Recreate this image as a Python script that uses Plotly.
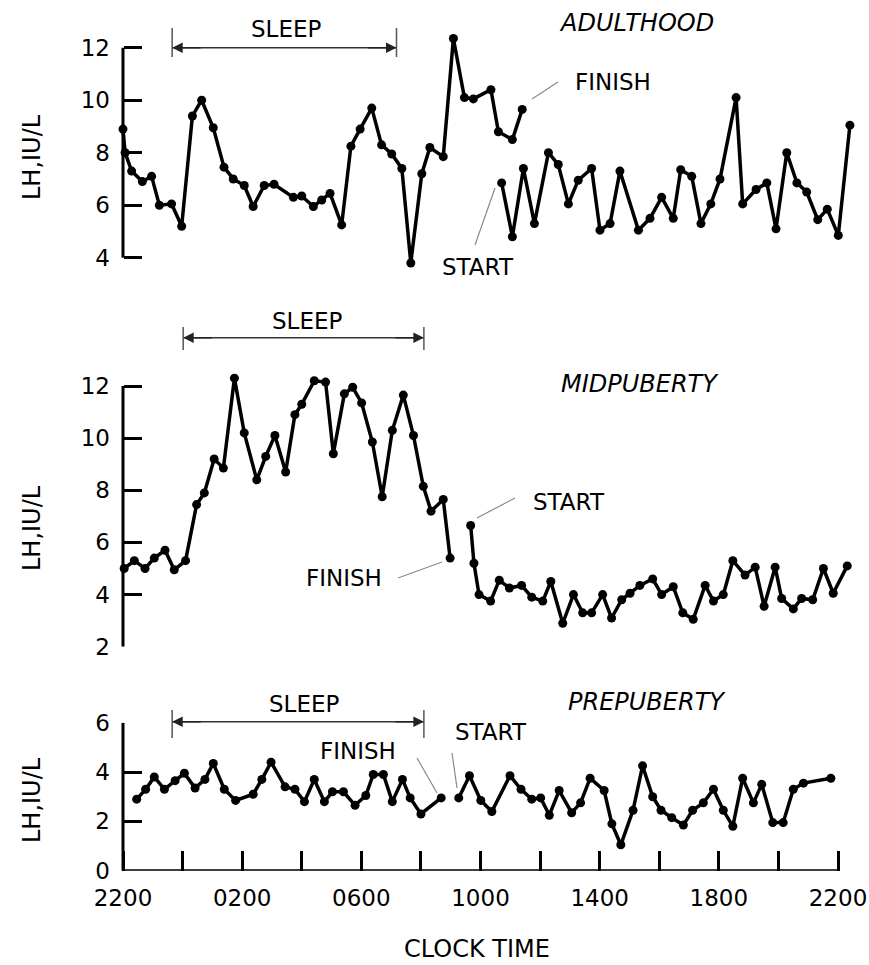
import plotly.graph_objects as go

# ---------------- data (time = hours after 2200) ----------------
adult_night_t = [0, 0.07, 0.29, 0.65, 0.96, 1.22, 1.63, 1.97, 2.33, 2.64, 3.03, 3.39, 3.70, 4.07,
                 4.37, 4.74, 5.07, 5.72, 6.00, 6.39, 6.67, 6.95, 7.34, 7.65, 7.96, 8.35, 8.68, 9.02,
                 9.36, 9.66, 10.03, 10.30, 10.75, 11.09, 11.46, 11.76, 12.35, 12.60, 13.07, 13.40]
adult_night_v = [8.9, 8.0, 7.3, 6.9, 7.1, 6.0, 6.05, 5.2, 9.4, 10.0, 8.95, 7.45, 7.0, 6.75,
                 5.95, 6.75, 6.8, 6.3, 6.35, 5.95, 6.2, 6.45, 5.25, 8.25, 8.9, 9.7, 8.3, 7.95,
                 7.4, 3.8, 7.2, 8.2, 7.85, 12.35, 10.1, 10.05, 10.4, 8.8, 8.5, 9.65]
adult_day_t = [12.71, 13.07, 13.44, 13.81, 14.28, 14.61, 14.95, 15.28, 15.73, 16.01, 16.35, 16.68,
               17.30, 17.69, 18.08, 18.47, 18.72, 19.09, 19.40, 19.73, 20.04, 20.58, 20.80, 21.25,
               21.61, 21.92, 22.28, 22.62, 22.95, 23.32, 23.64, 24.01, 24.40]
adult_day_v = [6.85, 4.8, 7.4, 5.3, 8.0, 7.55, 6.05, 6.95, 7.4, 5.05, 5.3, 7.3,
               5.05, 5.5, 6.3, 5.5, 7.35, 7.1, 5.3, 6.05, 7.0, 10.1, 6.05, 6.6,
               6.85, 5.1, 8.0, 6.85, 6.5, 5.45, 5.85, 4.85, 9.05]

mid_night_t = [0.04, 0.38, 0.74, 1.05, 1.41, 1.72, 2.10, 2.47, 2.73, 3.06, 3.37, 3.74, 4.07, 4.49,
               4.79, 5.10, 5.46, 5.77, 6.00, 6.42, 6.80, 7.06, 7.43, 7.71, 8.01, 8.37, 8.70, 9.04,
               9.41, 9.75, 10.08, 10.34, 10.75, 10.98]
mid_night_v = [5.0, 5.3, 5.0, 5.4, 5.7, 4.95, 5.3, 7.45, 7.9, 9.2, 8.85, 12.3, 10.2, 8.4,
               9.3, 10.1, 8.7, 10.9, 11.3, 12.2, 12.15, 9.4, 11.7, 11.95, 11.35, 9.85, 7.75, 10.3,
               11.65, 10.1, 8.15, 7.2, 7.65, 5.4]
mid_day_t = [11.67, 11.78, 11.95, 12.34, 12.63, 12.97, 13.38, 13.72, 14.09, 14.36, 14.76, 15.12,
             15.43, 15.73, 16.10, 16.40, 16.74, 17.02, 17.35, 17.78, 18.08, 18.47, 18.79, 19.14,
             19.54, 19.82, 20.15, 20.47, 20.88, 21.22, 21.52, 21.89, 22.11, 22.50, 22.78, 23.15,
             23.51, 23.84, 24.31]
mid_day_v = [6.65, 5.2, 4.0, 3.75, 4.55, 4.25, 4.35, 3.9, 3.75, 4.5, 2.9, 4.0,
             3.3, 3.3, 4.0, 3.1, 3.8, 4.05, 4.35, 4.6, 4.0, 4.3, 3.3, 3.05,
             4.35, 3.75, 4.0, 5.3, 4.75, 5.05, 3.55, 5.05, 3.85, 3.45, 3.85, 3.8,
             5.0, 4.05, 5.1]

pre_night_t = [0.46, 0.76, 1.05, 1.39, 1.75, 2.06, 2.42, 2.75, 3.03, 3.40, 3.78, 4.37, 4.66, 4.97,
               5.44, 5.77, 6.09, 6.42, 6.76, 7.03, 7.40, 7.79, 8.15, 8.40, 8.74, 9.04, 9.38, 9.64,
               10.00, 10.68]
pre_night_v = [2.9, 3.3, 3.8, 3.3, 3.65, 3.95, 3.35, 3.7, 4.35, 3.3, 2.85, 3.1, 3.7, 4.4,
               3.4, 3.3, 2.8, 3.7, 2.8, 3.2, 3.2, 2.65, 3.05, 3.9, 3.9, 2.8, 3.7, 2.95,
               2.3, 2.95]
pre_day_t = [11.27, 11.63, 12.01, 12.38, 12.99, 13.36, 13.72, 14.02, 14.31, 14.64, 15.06, 15.36,
             15.68, 16.15, 16.41, 16.71, 17.12, 17.44, 17.78, 18.06, 18.42, 18.81, 19.12, 19.48,
             19.82, 20.15, 20.47, 20.80, 21.16, 21.44, 21.81, 22.16, 22.50, 22.84, 23.76]
pre_day_v = [2.95, 3.85, 2.85, 2.4, 3.85, 3.3, 2.9, 2.95, 2.25, 3.25, 2.35, 2.75,
             3.75, 3.25, 1.9, 1.05, 2.45, 4.25, 3.0, 2.45, 2.15, 1.85, 2.45, 2.75,
             3.3, 2.45, 1.8, 3.75, 2.75, 3.5, 1.95, 1.95, 3.3, 3.55, 3.75]

panel_names = ["ADULTHOOD", "MIDPUBERTY", "PREPUBERTY"]
sleep_start = [1.65, 2.02, 1.65]
sleep_end = [9.18, 10.10, 10.10]

x_tick_vals = [0, 2, 4, 6, 8, 10, 12, 14, 16, 18, 20, 22, 24]
x_tick_text = ["2200", "", "0200", "", "0600", "", "1000", "", "1400", "", "1800", "", "2200"]
y_ticks_top = [4, 6, 8, 10, 12]
y_ticks_mid = [2, 4, 6, 8, 10, 12]
y_ticks_bot = [0, 2, 4, 6]

# ---------------- layout helpers ----------------
FIG_W, FIG_H = 869, 965
ML, MR = 100, 5
PW = FIG_W - ML - MR
X0_PX, X24_PX = 123, 838            # pixel positions of hour 0 and hour 24
PPH = (X24_PX - X0_PX) / 24.0
FONT = "DejaVu Sans"


def fx(px):
    return (px - ML) / PW


def fy(py):
    return 1 - py / FIG_H


x_range = [(ML - X0_PX) / PPH, (FIG_W - MR - X0_PX) / PPH]


def domain(lo, hi, v_low, py_low, v_high, py_high):
    k = (py_low - py_high) / (v_high - v_low)
    return [fy(py_low + (v_low - lo) * k), fy(py_low - (hi - v_low) * k)]


fig = go.Figure()

series = [
    (adult_night_t, adult_night_v, "y"), (adult_day_t, adult_day_v, "y"),
    (mid_night_t, mid_night_v, "y2"), (mid_day_t, mid_day_v, "y2"),
    (pre_night_t, pre_night_v, "y3"), (pre_day_t, pre_day_v, "y3"),
]
for t, v, ya in series:
    fig.add_trace(go.Scatter(
        x=t, y=v, xaxis="x", yaxis=ya, mode="lines+markers",
        line=dict(color="black", width=3.5),
        marker=dict(color="black", size=9),
        cliponaxis=False, hoverinfo="skip",
    ))

yax_common = dict(
    showline=False, ticks="inside", ticklen=18,
    tickwidth=3, tickcolor="black", showgrid=False, zeroline=False,
    anchor="free", position=fx(X0_PX),
    tickfont=dict(family=FONT, size=23, color="black"), ticklabelstandoff=13,
    automargin=False, fixedrange=True,
)

top_rng, mid_rng, bot_rng = [3.3, 12.8], [2, 12.7], [0, 6]

fig.update_layout(
    width=FIG_W, height=FIG_H,
    margin=dict(l=ML, r=MR, t=0, b=0),
    paper_bgcolor="white", plot_bgcolor="white",
    showlegend=False,
    font=dict(family=FONT, color="black"),
    xaxis=dict(
        range=x_range, anchor="y3", showline=False,
        ticks="inside", ticklen=20, tickwidth=3, tickcolor="black",
        tickvals=x_tick_vals, ticktext=x_tick_text, showgrid=False, zeroline=False,
        tickfont=dict(family=FONT, size=23, color="black"), ticklabelstandoff=11,
        automargin=False, fixedrange=True,
    ),
    yaxis=dict(range=top_rng, domain=domain(*top_rng, 4, 257.7, 12, 47.7),
               tickvals=y_ticks_top, **yax_common),
    yaxis2=dict(range=mid_rng, domain=domain(*mid_rng, 2, 646.7, 12, 386),
                tickvals=y_ticks_mid, **yax_common),
    yaxis3=dict(range=bot_rng, domain=domain(*bot_rng, 0, 870.7, 6, 722.7),
                tickvals=y_ticks_bot, **yax_common),
)

annotations = []
shapes = []

# axis lines (limited to the tick span, as in the original)
for yref, ticks in (("y", y_ticks_top), ("y2", y_ticks_mid), ("y3", y_ticks_bot)):
    shapes.append(dict(type="line", xref="paper", yref=yref, x0=fx(X0_PX), x1=fx(X0_PX),
                       y0=min(ticks), y1=max(ticks), line=dict(color="black", width=3)))
shapes.append(dict(type="line", xref="x", yref="y3", x0=min(x_tick_vals), x1=max(x_tick_vals),
                   y0=0, y1=0, line=dict(color="black", width=3)))


def text(px, py, s, size=23, italic=False, angle=0):
    annotations.append(dict(
        x=fx(px), y=fy(py), xref="paper", yref="paper", text=s, showarrow=False,
        xanchor="center", yanchor="middle", textangle=angle,
        font=dict(family=FONT, size=size, color="black",
                  style="italic" if italic else "normal"),
    ))


def leader(x0, y0, x1, y1):
    shapes.append(dict(type="line", xref="paper", yref="paper",
                       x0=fx(x0), y0=fy(y0), x1=fx(x1), y1=fy(y1),
                       line=dict(color="#8a8a8a", width=1.2)))


# panel titles
text(636, 23, panel_names[0], size=24, italic=True)
text(640, 384, panel_names[1], size=24, italic=True)
text(647, 702, panel_names[2], size=24, italic=True)

# y-axis titles
for cy in (157, 528, 800):
    text(32, cy, "LH,IU/L", size=24, angle=-90)

# clock time
text(477, 949, "CLOCK TIME", size=24)

# sleep bars
bar_y = [47.7, 337.7, 721.7]
tick_span = [(28, 57), (327, 350), (710, 738)]
label_pos = [(286, 29), (307, 321), (304, 704)]
for i in range(3):
    yb = fy(bar_y[i])
    shapes.append(dict(type="line", xref="x", yref="paper", x0=sleep_start[i], x1=sleep_end[i],
                       y0=yb, y1=yb, line=dict(color="#333333", width=1.5)))
    for xe in (sleep_start[i], sleep_end[i]):
        shapes.append(dict(type="line", xref="x", yref="paper", x0=xe, x1=xe,
                           y0=fy(tick_span[i][0]), y1=fy(tick_span[i][1]),
                           line=dict(color="#555555", width=1.5)))
    for xe, off in ((sleep_start[i], 30), (sleep_end[i], -30)):
        annotations.append(dict(x=xe, y=yb, xref="x", yref="paper", text="", showarrow=True,
                                ax=off, ay=0, arrowhead=2, arrowsize=1.4, arrowwidth=1.5,
                                arrowcolor="#222222", standoff=0))
    text(label_pos[i][0], label_pos[i][1], "SLEEP", size=23)

# start / finish labels + leader lines
text(613, 82, "FINISH"); leader(558, 82, 532, 99)
text(478, 267, "START"); leader(475, 245, 495, 188)
text(569, 502, "START"); leader(477, 518, 515, 498)
text(344, 578, "FINISH"); leader(398, 578, 442, 562)
text(491, 732, "START"); leader(452, 753, 457, 788)
text(358, 751, "FINISH"); leader(417, 758, 437, 793)

fig.update_layout(annotations=annotations, shapes=shapes)

fig.write_html("out.html", config={"displayModeBar": False},
               post_script="document.body.style.margin='0px';")
